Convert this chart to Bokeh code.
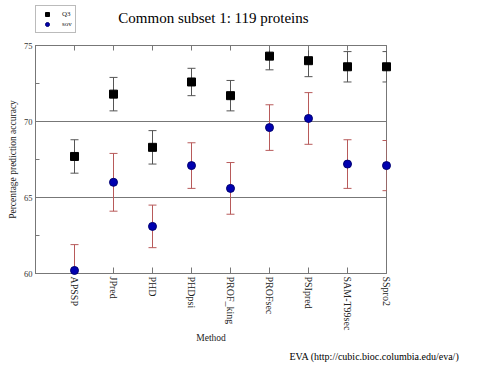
from bokeh.plotting import figure
from bokeh.layouts import column
from bokeh.models import (Range1d, FixedTicker, SingleIntervalTicker, LinearAxis,
                          Label, Legend, LegendItem, ColumnDataSource, Title)
from bokeh.embed import file_html
from bokeh.resources import INLINE

methods = ["APSSP", "JPred", "PHD", "PHDpsi", "PROF_king", "PROFsec", "PSIpred", "SAM-T99sec", "SSpro2"]
q3 = [67.7, 71.8, 68.3, 72.6, 71.7, 74.3, 74.0, 73.6, 73.6]
q3_err = [1.1, 1.1, 1.1, 0.9, 1.0, 0.9, 1.05, 1.0, 1.0]
sov = [60.2, 66.0, 63.1, 67.1, 65.6, 69.6, 70.2, 67.2, 67.1]
sov_err = [1.7, 1.9, 1.4, 1.5, 1.7, 1.5, 1.7, 1.6, 1.65]
series_names = ["Q3", "sov"]
title_text = "Common subset 1: 119 proteins"
source_text = "EVA (http://cubic.bioc.columbia.edu/eva/)"

FONT = "Liberation Serif"
GREY = "#777777"
Q3_BAR = "#555555"
SOV_BAR = "#b85a5a"
SOV_FILL = "#0000b0"
SOV_LINE = "#000070"

xpos = list(range(1, len(methods) + 1))
src = ColumnDataSource(dict(
    x=xpos, q3=q3, sov=sov,
    q3_lo=[v - e for v, e in zip(q3, q3_err)], q3_hi=[v + e for v, e in zip(q3, q3_err)],
    sov_lo=[v - e for v, e in zip(sov, sov_err)], sov_hi=[v + e for v, e in zip(sov, sov_err)],
))

# ---------------- header (title + legend) ----------------
# the header panel shows the legend keys; its y range lies below the data, so only the keys show
head = figure(width=483, height=40, x_range=Range1d(0, 483), y_range=Range1d(0, 40),
              x_axis_type=None, y_axis_type=None, min_border=0,
              output_backend="svg", toolbar_location=None)
head.outline_line_color = None
head.xgrid.grid_line_color = None
head.ygrid.grid_line_color = None
k_q3 = head.scatter(x="x", y="q3", source=src, marker="square", size=7,
                    fill_color="black", line_color="black")
k_sov = head.scatter(x="x", y="sov", source=src, marker="circle", size=7,
                     fill_color=SOV_FILL, line_color=SOV_LINE)
legend = Legend(items=[LegendItem(label=series_names[0], renderers=[k_q3]),
                       LegendItem(label=series_names[1], renderers=[k_sov])],
                location=(0, 7), orientation="vertical",
                label_text_font=FONT, label_text_font_size="7px", label_text_color="#222222",
                glyph_width=16, glyph_height=10, label_height=10, label_width=10,
                label_standoff=7, spacing=0, padding=3, margin=0,
                border_line_color=GREY, border_line_width=1,
                background_fill_color="white", background_fill_alpha=1)
head.add_layout(legend, "center")
head.add_layout(Label(x=114, y=23, text=title_text,
                      text_font=FONT, text_font_size="15px", text_align="left",
                      text_baseline="middle", text_color="black"))

# ---------------- main plot ----------------
p = figure(frame_width=351, frame_height=228,
           min_border_left=35, min_border_right=97, min_border_top=5, min_border_bottom=92,
           x_range=Range1d(0, len(methods)), y_range=Range1d(60, 75),
           output_backend="svg", toolbar_location=None)
p.outline_line_color = GREY
p.outline_line_width = 1

p.xaxis.ticker = FixedTicker(ticks=xpos)
p.xaxis.major_label_overrides = {i: m for i, m in zip(xpos, methods)}
p.xaxis.major_label_orientation = "vertical"
p.xaxis.major_label_text_font = FONT
p.xaxis.major_label_text_font_size = "10px"
p.xaxis.major_label_text_color = "#222222"
p.xaxis.major_label_standoff = 3
p.xaxis.major_tick_in = 6
p.xaxis.major_tick_out = 0
p.xaxis.minor_tick_line_color = None
p.xaxis.axis_line_color = GREY
p.xaxis.major_tick_line_color = GREY
p.xaxis.axis_label = "Method"
p.xaxis.axis_label_text_font = FONT
p.xaxis.axis_label_text_font_style = "normal"
p.xaxis.axis_label_text_font_size = "9.5px"
p.xaxis.axis_label_text_color = "#222222"
p.xaxis.axis_label_standoff = 0

p.yaxis.ticker = SingleIntervalTicker(interval=5, num_minor_ticks=2)
p.yaxis.major_label_text_font = FONT
p.yaxis.major_label_text_font_size = "8.5px"
p.yaxis.major_label_text_color = "#333333"
p.yaxis.major_label_standoff = 3
p.yaxis.major_tick_in = 4
p.yaxis.major_tick_out = 0
p.yaxis.minor_tick_in = 4
p.yaxis.minor_tick_out = 0
p.yaxis.axis_line_color = GREY
p.yaxis.major_tick_line_color = GREY
p.yaxis.minor_tick_line_color = GREY
p.yaxis.axis_label = "Percentage prediction accuracy"
p.yaxis.axis_label_text_font = FONT
p.yaxis.axis_label_text_font_style = "normal"
p.yaxis.axis_label_text_font_size = "9.5px"
p.yaxis.axis_label_text_color = "#222222"
p.yaxis.axis_label_standoff = 3

top = LinearAxis(ticker=FixedTicker(ticks=xpos), major_label_text_font_size="0px",
                 major_tick_in=5, major_tick_out=0, minor_tick_line_color=None,
                 axis_line_color=GREY, major_tick_line_color=GREY, major_label_standoff=0)
p.add_layout(top, "above")

p.xgrid.grid_line_color = None
p.ygrid.grid_line_color = GREY
p.ygrid.grid_line_width = 1

# error bars (clipped to the frame)
p.segment(x0="x", y0="q3_lo", x1="x", y1="q3_hi", source=src, line_color=Q3_BAR, line_width=1)
p.scatter(x="x", y="q3_lo", source=src, marker="dash", size=8, line_color=Q3_BAR, line_width=1)
p.scatter(x="x", y="q3_hi", source=src, marker="dash", size=8, line_color=Q3_BAR, line_width=1)
p.segment(x0="x", y0="sov_lo", x1="x", y1="sov_hi", source=src, line_color=SOV_BAR, line_width=1)
p.scatter(x="x", y="sov_lo", source=src, marker="dash", size=8, line_color=SOV_BAR, line_width=1)
p.scatter(x="x", y="sov_hi", source=src, marker="dash", size=8, line_color=SOV_BAR, line_width=1)

p.scatter(x="x", y="q3", source=src, marker="square", size=8,
          fill_color="black", line_color="black", level="overlay")
p.scatter(x="x", y="sov", source=src, marker="circle", size=8,
          fill_color=SOV_FILL, line_color=SOV_LINE, level="overlay")

p.add_layout(Title(text=source_text, align="left", offset=254, standoff=4,
                   text_font=FONT, text_font_size="10px", text_font_style="normal",
                   text_color="black"), "below")

layout = column(head, p, spacing=0)
open("out.html", "w").write(file_html(layout, INLINE))
